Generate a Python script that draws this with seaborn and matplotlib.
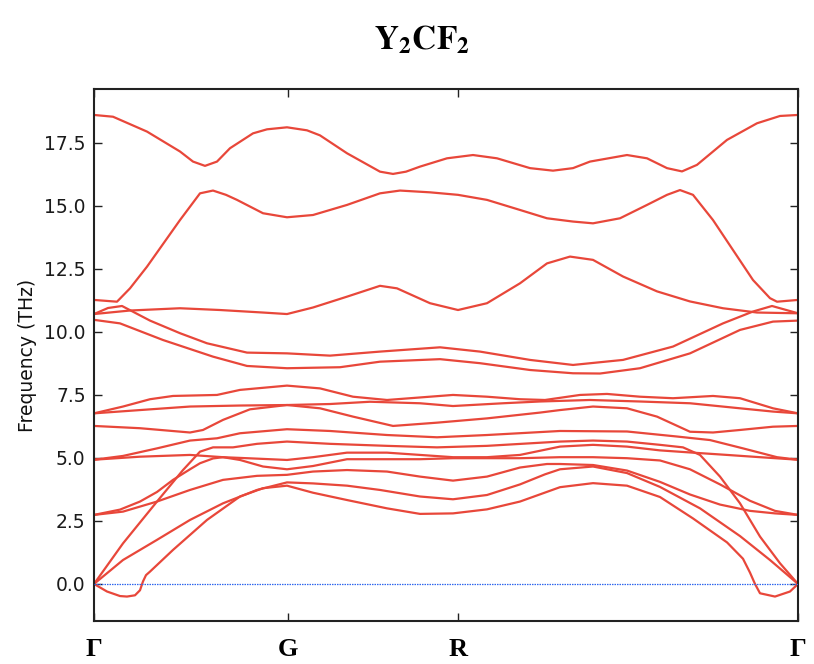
import numpy as np
import pandas as pd
import matplotlib
matplotlib.use("Agg")
import matplotlib.pyplot as plt
import seaborn as sns

# High-symmetry points along the path (path coordinate, arbitrary units)
sym_pos = [94, 288, 458, 798]
sym_labels = ["Γ", "G", "R", "Γ"]

# Phonon bands: path coordinate (k) and frequency (THz)
b15_k = [94,113,147,180,193,205,217,230,253,267,287,307,320,347,380,393,406,420,447,473,497,530,553,573,590,627,647,667,682,697,727,757,780,798]
b15_f = [18.61,18.54,17.95,17.16,16.76,16.59,16.76,17.29,17.88,18.04,18.12,18.00,17.80,17.09,16.36,16.27,16.36,16.56,16.89,17.02,16.89,16.50,16.40,16.50,16.76,17.02,16.89,16.50,16.37,16.63,17.62,18.28,18.57,18.61]

b14_k = [94,117,130,147,180,190,200,213,226,237,263,287,313,347,380,400,430,458,487,520,547,573,593,620,647,667,680,693,713,733,753,770,777,798]
b14_f = [11.27,11.20,11.73,12.59,14.44,14.97,15.50,15.61,15.44,15.24,14.71,14.55,14.64,15.04,15.50,15.61,15.54,15.44,15.24,14.84,14.51,14.38,14.31,14.51,15.04,15.44,15.63,15.44,14.44,13.25,12.06,11.34,11.20,11.27]

b13_k = [94,130,180,220,263,287,313,347,380,397,430,458,487,520,547,570,593,623,657,690,723,757,798]
b13_f = [10.71,10.85,10.94,10.87,10.77,10.71,10.97,11.40,11.83,11.73,11.14,10.87,11.14,11.93,12.72,12.99,12.86,12.20,11.61,11.21,10.94,10.77,10.74]

b12_k = [94,108,122,150,180,207,247,287,330,380,440,480,530,573,623,673,723,753,772,798]
b12_f = [10.71,10.95,11.03,10.45,9.95,9.55,9.18,9.15,9.06,9.22,9.39,9.22,8.89,8.69,8.89,9.42,10.34,10.81,11.03,10.74]

b11_k = [94,120,163,213,247,287,340,380,440,480,530,573,600,640,690,740,773,798]
b11_f = [10.48,10.34,9.68,9.02,8.65,8.56,8.60,8.82,8.92,8.76,8.49,8.36,8.35,8.56,9.15,10.08,10.41,10.45]

b10_k = [94,123,150,173,217,240,287,320,353,387,420,453,487,520,545,580,607,640,673,713,740,773,798]
b10_f = [6.77,7.04,7.33,7.46,7.50,7.70,7.87,7.76,7.43,7.30,7.40,7.50,7.43,7.33,7.30,7.50,7.54,7.43,7.37,7.46,7.37,6.97,6.77]

b9_k = [94,140,190,240,287,330,370,420,453,503,540,590,640,690,740,773,798]
b9_f = [6.77,6.90,7.04,7.08,7.10,7.14,7.23,7.17,7.06,7.17,7.24,7.30,7.24,7.17,6.97,6.84,6.77]

b8_k = [94,140,190,203,223,250,287,320,353,393,437,487,540,560,593,627,657,690,713,740,773,798]
b8_f = [6.27,6.18,6.01,6.11,6.51,6.93,7.10,6.97,6.64,6.27,6.40,6.57,6.80,6.90,7.04,6.97,6.64,6.04,6.01,6.11,6.24,6.27]

b7_k = [94,123,157,190,217,240,287,330,387,437,487,560,627,677,710,743,777,798]
b7_f = [4.93,5.08,5.38,5.69,5.78,5.98,6.14,6.07,5.91,5.82,5.91,6.07,6.05,5.85,5.71,5.38,5.03,4.93]

b6_k = [94,123,157,183,200,213,233,257,287,330,387,437,487,560,593,627,660,683,700,720,740,760,780,798]
b6_f = [0.0,1.61,3.27,4.52,5.25,5.42,5.42,5.56,5.65,5.56,5.48,5.42,5.48,5.65,5.69,5.65,5.52,5.42,5.12,4.26,3.20,1.88,0.82,0.0]

b5_k = [94,140,190,223,247,287,313,347,387,420,453,487,520,560,593,627,660,693,727,760,798]
b5_f = [4.93,5.05,5.12,5.03,4.99,4.92,5.03,5.21,5.21,5.12,5.03,5.03,5.12,5.45,5.52,5.45,5.30,5.21,5.12,5.03,4.93]

b4_k = [94,120,140,157,173,190,200,213,223,240,263,287,313,347,387,420,453,487,520,560,593,627,660,690,720,750,775,798]
b4_f = [2.74,2.95,3.27,3.65,4.13,4.55,4.79,4.98,5.03,4.92,4.66,4.55,4.68,4.95,4.95,4.95,4.99,4.99,4.99,5.03,5.03,4.99,4.90,4.55,3.95,3.30,2.90,2.74]

b3_k = [94,123,157,190,223,257,287,313,347,387,420,453,487,520,547,560,593,627,660,690,720,750,775,798]
b3_f = [2.74,2.87,3.27,3.73,4.13,4.29,4.33,4.46,4.52,4.46,4.26,4.10,4.26,4.62,4.76,4.76,4.72,4.50,4.05,3.55,3.15,2.90,2.80,2.74]

b2_k = [94,123,157,190,223,257,287,313,347,380,420,453,487,520,545,560,593,627,660,700,740,770,798]
b2_f = [0.0,0.95,1.75,2.54,3.20,3.73,4.03,3.99,3.90,3.73,3.47,3.36,3.53,3.95,4.35,4.55,4.66,4.40,3.85,3.00,1.90,0.95,0.0]

b1_k = [94,107,120,127,135,140,143,146,150,173,207,240,263,287,313,347,387,420,453,487,520,560,593,627,660,693,727,743,750,755,760,775,790,798]
b1_f = [0.0,-0.30,-0.48,-0.50,-0.45,-0.25,0.10,0.35,0.49,1.35,2.54,3.47,3.80,3.90,3.62,3.33,3.00,2.78,2.80,2.96,3.27,3.84,4.00,3.90,3.45,2.60,1.65,1.00,0.45,0.00,-0.37,-0.50,-0.30,0.0]

yticks = [0.0, 2.5, 5.0, 7.5, 10.0, 12.5, 15.0, 17.5]

bands = [(b1_k, b1_f), (b2_k, b2_f), (b3_k, b3_f), (b4_k, b4_f), (b5_k, b5_f),
         (b6_k, b6_f), (b7_k, b7_f), (b8_k, b8_f), (b9_k, b9_f), (b10_k, b10_f),
         (b11_k, b11_f), (b12_k, b12_f), (b13_k, b13_f), (b14_k, b14_f), (b15_k, b15_f)]

rows = []
for i, (kk, ff) in enumerate(bands):
    for k, f in zip(kk, ff):
        rows.append({"k": k, "freq": f, "band": i})
df = pd.DataFrame(rows)

sns.set_style("ticks")
plt.rcParams["font.family"] = ["DejaVu Sans"]
plt.rcParams["mathtext.fontset"] = "stix"
plt.rcParams["text.color"] = "black"
plt.rcParams["axes.labelcolor"] = "#111111"
plt.rcParams["xtick.color"] = "#222222"
plt.rcParams["ytick.color"] = "#222222"

RED = "#e8473a"
BLUE = "#2f66ee"

fig = plt.figure(figsize=(8.14, 6.64), dpi=100)
ax = fig.add_axes([94/814, 43/664, 704/814, 532/664])

sns.lineplot(data=df, x="k", y="freq", units="band", estimator=None, sort=False,
             color=RED, linewidth=1.6, ax=ax, legend=False)
ax.axhline(0.0, color=BLUE, linewidth=0.9, linestyle=(0, (1.2, 0.8)), zorder=3)

ax.set_xlim(sym_pos[0], sym_pos[-1])
ax.set_ylim(-1.47, 19.64)
ax.set_xticks(sym_pos)
ax.set_xticklabels(sym_labels, fontfamily="Liberation Serif", fontweight="bold",
                   fontsize=19, color="black")
ax.set_yticks(yticks)
ax.set_yticklabels([f"{v:.1f}" for v in yticks], fontsize=13.5, color="#1a1a1a")
ax.set_xlabel("")
ax.set_ylabel("Frequency (THz)", fontsize=13.5, labelpad=5)

ax.tick_params(axis="both", direction="in", top=True, right=True, length=6, width=1.0)
ax.tick_params(axis="x", pad=12)
ax.tick_params(axis="y", pad=6)
for s in ax.spines.values():
    s.set_linewidth(1.5)
    s.set_color("#222222")

fig.text(0.518, 0.94, r"$\mathbf{Y_2CF_2}$", ha="center", va="center", fontsize=24, color="black")

fig.savefig("out.png", dpi=100)
